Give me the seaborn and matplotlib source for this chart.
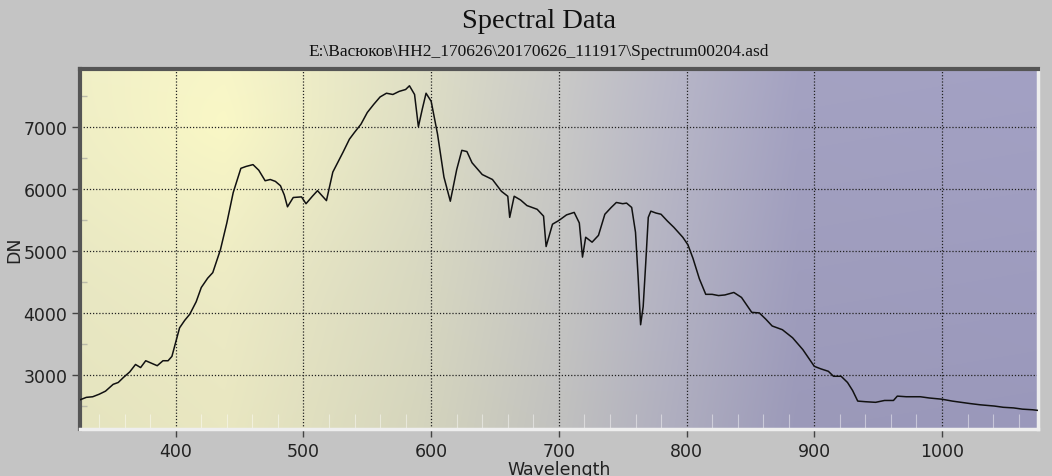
import numpy as np
import pandas as pd
import matplotlib
matplotlib.use("Agg")
import matplotlib.pyplot as plt
import seaborn as sns
from matplotlib.ticker import MultipleLocator

# ---- data ----
wavelength = [325, 330, 335, 340, 345, 351, 355, 359, 364, 368.5, 372.5, 376.5, 381, 385.5, 390, 394,
              397, 400.5, 403, 407, 411, 416, 420, 425, 429, 435, 440, 445, 451, 455, 460.5, 465, 470,
              474, 478, 482, 485, 487.5, 492, 498.5, 502, 507, 511, 518, 523, 531, 536, 540, 545,
              550, 555, 560, 565, 570, 575, 580, 583, 587, 590, 593, 596, 600, 605, 610, 615, 620,
              624, 628, 632, 640, 648, 655, 660, 661.5, 665, 670, 675, 683, 688, 690, 695, 700, 706,
              712, 716, 718.5, 721, 726, 731, 736, 741, 745, 750, 753, 757, 760, 762, 764, 766, 768,
              770, 772, 776, 780, 785, 790, 797, 801, 805, 810, 815, 820, 825, 830, 837, 843, 851,
              857, 862, 867, 875, 883, 891, 900, 905, 911, 915, 921, 926, 930, 934, 940, 948, 955,
              962, 965, 972, 983, 990, 1000, 1008, 1015, 1022, 1030, 1041, 1048, 1056, 1063, 1071,
              1075]
dn = [2600, 2640, 2650, 2690, 2740, 2850, 2880, 2960, 3050, 3170, 3120, 3230, 3190, 3150, 3230, 3230,
      3300, 3570, 3760, 3880, 3980, 4180, 4410, 4560, 4650, 5020, 5450, 5940, 6330, 6360, 6390, 6300,
      6130, 6150, 6120, 6050, 5900, 5710, 5860, 5870, 5760, 5880, 5970, 5810, 6270, 6590, 6800, 6910,
      7040, 7230, 7360, 7480, 7540, 7520, 7570, 7600, 7660, 7520, 7000, 7280, 7540, 7410, 6880, 6190,
      5800, 6310, 6620, 6600, 6420, 6230, 6150, 5960, 5880, 5540, 5880, 5820, 5730, 5670, 5560, 5070,
      5430, 5490, 5580, 5620, 5450, 4900, 5220, 5140, 5250, 5590, 5700, 5780, 5760, 5770, 5700, 5300,
      4600, 3810, 4100, 4800, 5540, 5640, 5610, 5590, 5480, 5380, 5220, 5100, 4880, 4550, 4300, 4300,
      4280, 4290, 4330, 4250, 4010, 4000, 3900, 3790, 3730, 3600, 3410, 3140, 3100, 3060, 2980, 2980,
      2880, 2750, 2580, 2570, 2560, 2590, 2590, 2660, 2650, 2650, 2630, 2610, 2580, 2560, 2540, 2520,
      2500, 2480, 2470, 2450, 2440, 2430]
x_major = [400, 500, 600, 700, 800, 900, 1000]
y_major = [3000, 4000, 5000, 6000, 7000]
title = "Spectral Data"
subtitle = "E:\\Васюков\\НН2_170626\\20170626_111917\\Spectrum00204.asd"
x_label = "Wavelength"
y_label = "DN"

df = pd.DataFrame({"Wavelength": wavelength, "DN": dn})

sns.set_theme(style="white")
plt.rcParams['font.family'] = ['DejaVu Sans']

fig = plt.figure(figsize=(10.52, 4.77), dpi=100)
fig.patch.set_facecolor("#c4c4c4")
ax = fig.add_axes([0.076, 0.0985, 0.9105, 0.7547])

# gradient background
nx, ny = 400, 200
u = np.linspace(0, 1, nx)
v = np.linspace(0, 1, ny)
U, V = np.meshgrid(u, v)
stops_t = [0.0, 0.15, 0.35, 0.5, 0.62, 0.75, 1.0]
stops_c = np.array([[238, 237, 200], [242, 240, 202], [222, 222, 198], [202, 202, 200],
                    [184, 183, 200], [164, 162, 194], [163, 161, 196]]) / 255.0
img = np.zeros((ny, nx, 3))
for k in range(3):
    img[..., k] = np.interp(U, stops_t, stops_c[:, k])
r = np.sqrt(((U - 0.15) / 0.3) ** 2 + ((V - 0.85) / 0.55) ** 2)
glow = np.clip(1 - r, 0, 1) ** 1.5
img += glow[..., None] * np.array([0.035, 0.035, -0.01])
img -= (1 - V[..., None]) * 0.035
img = np.clip(img, 0, 1)
ax.imshow(img, extent=[0, 1, 0, 1], transform=ax.transAxes, origin="lower",
          aspect="auto", zorder=0, interpolation="bilinear")

sns.lineplot(data=df, x="Wavelength", y="DN", ax=ax, color="#111111", lw=1.1, zorder=3)

ax.set_xlim(325, 1075)
ax.set_ylim(2130, 7930)
ax.set_xticks(x_major)
ax.set_yticks(y_major)
ax.xaxis.set_minor_locator(MultipleLocator(20))
ax.yaxis.set_minor_locator(MultipleLocator(500))
ax.grid(True, which="major", color="#222222", ls=(0, (1, 1.5)), lw=0.9, zorder=1)
ax.tick_params(axis="both", which="major", direction="out", length=6, width=1,
               color="#444444", labelsize=12.5, labelcolor="#222222", pad=3,
               bottom=True, left=True)
ax.tick_params(axis="x", which="minor", direction="in", length=11, width=0.8,
               color=(1, 1, 1, 0.45), bottom=True)
ax.tick_params(axis="y", which="minor", direction="in", length=5, width=1,
               color="#bbbbaa", left=True)

for side in ["left", "top"]:
    ax.spines[side].set_color("#555555")
    ax.spines[side].set_linewidth(3)
for side in ["bottom", "right"]:
    ax.spines[side].set_color("#eeeeee")
    ax.spines[side].set_linewidth(2.5)

ax.set_xlabel(x_label, fontsize=12.5, color="#222222", labelpad=0)
ax.set_ylabel(y_label, fontsize=12.5, color="#222222", labelpad=0)

fig.text(0.512, 0.954, title, ha="center", va="center", fontsize=20.5,
         family=["Liberation Serif", "DejaVu Serif"], color="#111111")
fig.text(0.512, 0.89, subtitle, ha="center", va="center", fontsize=12.5,
         family=["Liberation Serif", "DejaVu Serif"], color="#111111")

fig.savefig("out.png", dpi=100, facecolor=fig.get_facecolor())
